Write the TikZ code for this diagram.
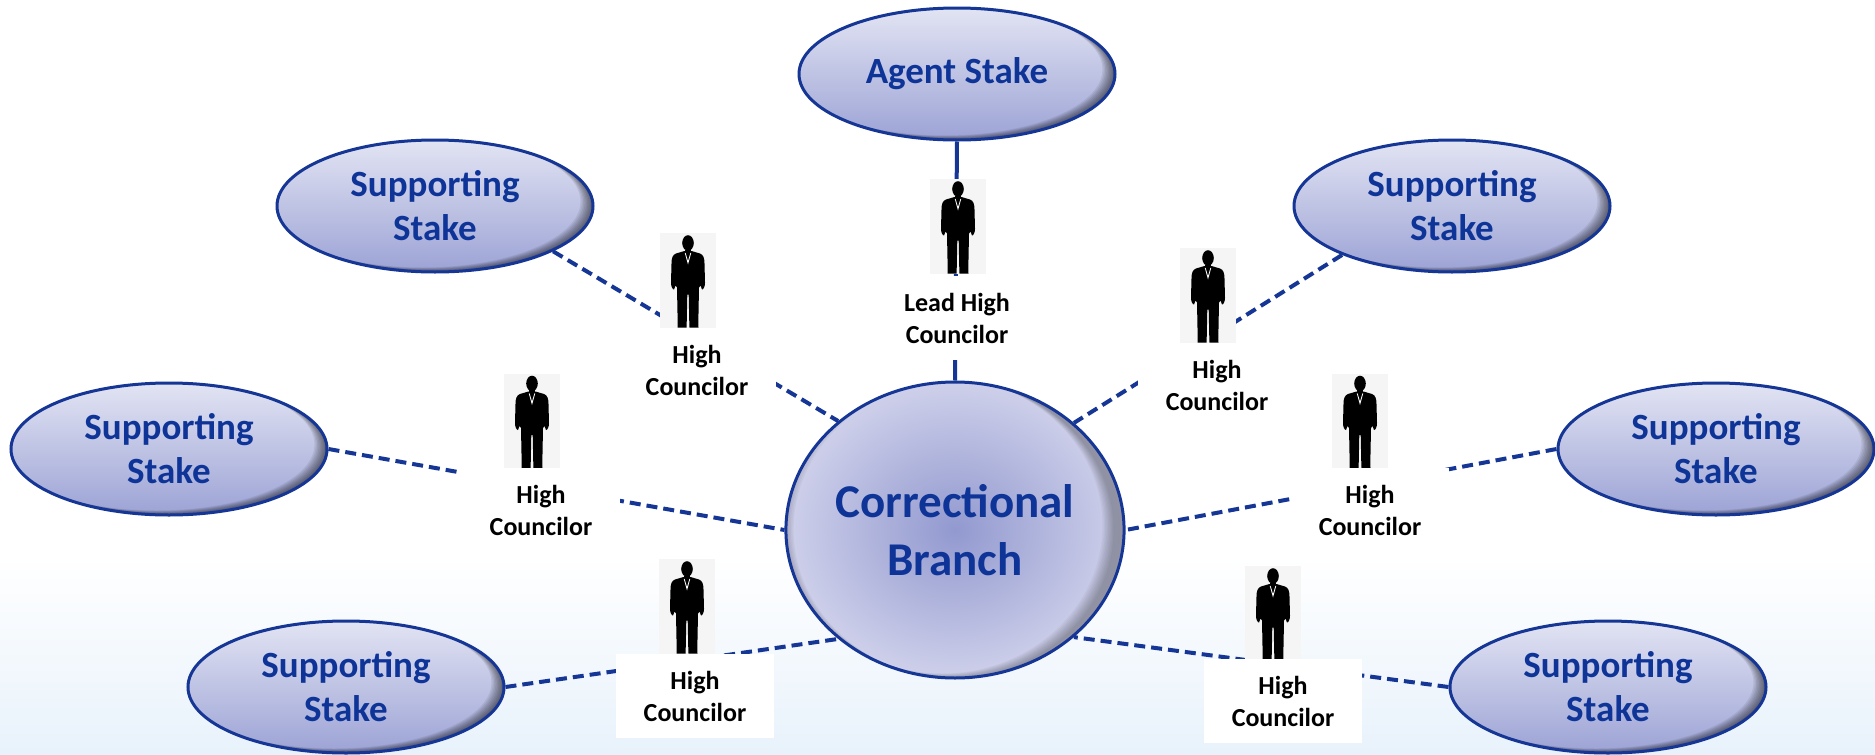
\documentclass[tikz,border=0pt]{standalone}
\usepackage{fontspec}
\setmainfont{Carlito}
\usetikzlibrary{shapes.geometric}
\definecolor{bdr}{RGB}{22,54,150}
\definecolor{tblue}{RGB}{14,52,152}
\definecolor{stop}{RGB}{226,228,243}
\definecolor{sbot}{RGB}{156,163,213}
\definecolor{cin}{RGB}{146,153,207}
\definecolor{cout}{RGB}{206,208,234}
\definecolor{bgblue}{RGB}{232,242,251}
\definecolor{boxgray}{RGB}{245,245,245}
\newcommand\innershade[3]{%
  \foreach \k in {1,...,9}{%
    \fill[black,opacity=#3,even odd rule]
      ([shift={(-250pt,-250pt)}]path picture bounding box.center) rectangle ([shift={(250pt,250pt)}]path picture bounding box.center)
      ([shift={({-1.4pt*\k},{0.5pt*\k})}]path picture bounding box.center) ellipse [x radius=#1, y radius=#2];
  }}
\tikzset{
  stake/.style={ellipse, draw=bdr, line width=3pt, minimum width=316pt, minimum height=132pt, inner sep=0pt,
    top color=stop, bottom color=sbot, text=tblue, align=center,
    font=\fontsize{37}{44}\selectfont\bfseries,
    path picture={\innershade{158pt}{66pt}{0.07}}},
  branch/.style={ellipse, draw=bdr, line width=3pt, minimum width=320pt, minimum height=296pt, inner sep=0pt,
    inner color=cin, outer color=cout, text=tblue, align=center,
    font=\fontsize{47}{58}\selectfont\bfseries,
    path picture={\innershade{160pt}{148pt}{0.035}}},
  manbox/.style={rectangle, fill=boxgray, draw=none, minimum width=56pt, minimum height=95pt, inner sep=0pt},
  lab/.style={rectangle, fill=white, draw=none, minimum width=158pt, minimum height=84pt, inner sep=0pt,
    align=center, text=black, font=\fontsize{26}{32}\selectfont\bfseries},
  dashline/.style={draw=bdr, line width=4pt, dash pattern=on 11pt off 6pt},
  solidline/.style={draw=bdr, line width=4pt},
  man/.pic={
    \begin{scope}[yscale=-1]
      \fill[black] (0,37.5) ellipse [x radius=5.8, y radius=7.8];
      \fill[black] (-2.8,26) rectangle (2.8,31);
      \fill[black] (-3.5,29.5) -- (-12,27) .. controls (-15.5,25.8) and (-16.5,22) .. (-16.5,17)
        -- (-17,-2) .. controls (-17,-6) and (-15.5,-9) .. (-14,-9) -- (-12.5,-5) -- (-11,-7)
        -- (-10.3,-43) -- (-10.5,-47) -- (-1.5,-47) -- (-1.3,-43) -- (-0.7,-14) -- (0.7,-14)
        -- (1.3,-43) -- (1.5,-47) -- (10.5,-47) -- (10.3,-43) -- (11,-7) -- (12.5,-5)
        -- (14,-9) .. controls (15.5,-9) and (17,-6) .. (17,-2) -- (16.5,17)
        .. controls (16.5,22) and (15.5,25.8) .. (12,27) -- (3.5,29.5) -- cycle;
      \fill[white] (-3.2,27.6) -- (0,16) -- (3.2,27.6) -- (2.4,27.6) -- (0,19.5) -- (-2.4,27.6) -- cycle;
    \end{scope}
  }
}
\begin{document}
\begin{tikzpicture}[x=1pt,y=-1pt]
\useasboundingbox (0,0) rectangle (1875,755);
\fill[white] (0,0) rectangle (1875,755);
\fill[top color=white, bottom color=bgblue, draw=none] (0,555) rectangle (1875,755);

% stakes and branch
\node[stake] (agent) at (957,74) {Agent Stake};
\node[stake] (sUL) at (435,206) {Supporting\\Stake};
\node[stake] (sUR) at (1452,206) {Supporting\\Stake};
\node[stake] (sLM) at (169,449) {Supporting\\Stake};
\node[stake] (sRM) at (1716,449) {Supporting\\Stake};
\node[stake] (sLL) at (346,687) {Supporting\\Stake};
\node[stake] (sLR) at (1608,687) {Supporting\\Stake};
\node[branch] (corr) at (955,530) {Correctional\\Branch};

% connectors
\draw[solidline] (agent.south) -- (corr.north);
\draw[dashline] (sUL.-21.5) -- (corr.137.8);
\draw[dashline] (sUR.-156.9) -- (corr.42.4);
\draw[dashline] (sLM.0) -- (corr.180);
\draw[dashline] (sRM.180) -- (corr.0);
\draw[dashline] (sLL.0) -- (corr.223.4);
\draw[dashline] (sLR.180) -- (corr.-42.4);

% councilor silhouettes
\node[manbox] (m0) at (958,226.5) {};
\node[manbox] (m1) at (688,280.5) {};
\node[manbox] (m2) at (1208,295.5) {};
\node[manbox] (m3) at (532,421) {};
\node[manbox] (m4) at (1360,421) {};
\node[manbox] (m5) at (687,606.5) {};
\node[manbox] (m6) at (1273,613.5) {};
\foreach \m in {m0,m1,m2,m3,m4,m5,m6}{\pic at (\m.center) {man};}

% councilor labels
\node[lab] (l0) at (957,318) {Lead High\\Councilor};
\node[lab] (l1) at (697,370) {High\\Councilor};
\node[lab] (l2) at (1217,385) {High\\Councilor};
\node[lab] (l3) at (541,510) {High\\Councilor};
\node[lab] (l4) at (1370,510) {High\\Councilor};
\node[lab] (l5) at (695,696) {High\\Councilor};
\node[lab] (l6) at (1283,701) {High\\Councilor};
\end{tikzpicture}
\end{document}
